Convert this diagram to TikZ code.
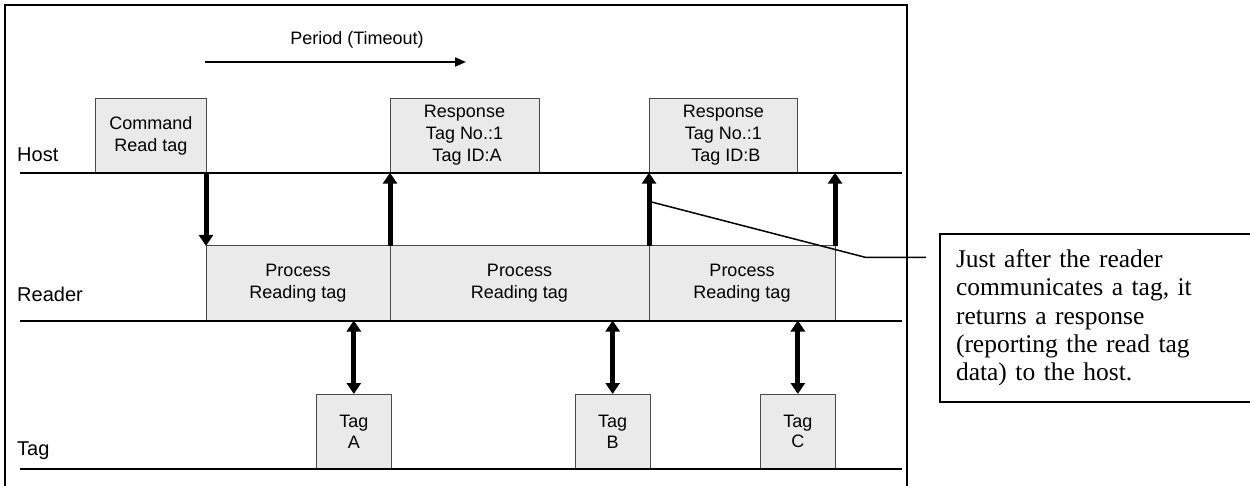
\documentclass[tikz,border=0pt]{standalone}
\usepackage{fontspec}
\setmainfont{Liberation Sans}
\newfontfamily\calloutfont{Liberation Serif}
\usetikzlibrary{arrows.meta}
\definecolor{boxfill}{HTML}{EAEAEA}
\definecolor{boxline}{HTML}{4A4A4A}
\tikzset{
  gbox/.style={draw=boxline, fill=boxfill, line width=1pt, inner sep=0pt, outer sep=0pt,
    align=center, font=\fontsize{18}{22}\selectfont},
  tline/.style={line width=2pt},
  lbl/.style={anchor=base west, inner sep=0pt, font=\fontsize{20}{24}\selectfont},
  bigarrow/.style={line width=5pt, -{Triangle[width=14pt,length=11pt]}},
  dblarrow/.style={line width=5pt, {Triangle[width=14pt,length=11pt]}-{Triangle[width=14pt,length=11pt]}},
}
\begin{document}
\begin{tikzpicture}[x=1pt,y=-1pt]
\useasboundingbox (0,0) rectangle (1250,486);
\fill[white] (0,0) rectangle (1250,486);
% outer frame
\draw[line width=1.5pt] (907,486) -- (907,5) -- (5,5) -- (5,486);

% period arrow
\node[font=\fontsize{18}{22}\selectfont, inner sep=0pt] (per) at (357,40) {Period (Timeout)};
\coordinate (pa) at (205,62);
\coordinate (pb) at (466,62);
\draw[line width=2pt, -{Triangle[width=9pt,length=11pt]}] (pa) -- (pb);

% host boxes
\node[gbox, minimum width=110.3pt, minimum height=74.2pt] (cmd) at (150.85,135.6) {Command\\Read tag};
\node[gbox, minimum width=149pt, minimum height=74.2pt] (resp1) at (464.5,135.6) {Response\\Tag No.:1\\\ Tag ID:A};
\node[gbox, minimum width=148.7pt, minimum height=74.2pt] (resp2) at (723.35,135.6) {Response\\Tag No.:1\\\ Tag ID:B};

% reader boxes
\node[gbox, minimum width=184pt, minimum height=74.5pt] (rd1) at (298,283.25) {Process\\Reading tag};
\node[gbox, minimum width=259pt, minimum height=74.5pt] (rd2) at (519.5,283.25) {Process\\Reading tag};
\node[gbox, minimum width=186pt, minimum height=74.5pt] (rd3) at (742,283.25) {Process\\Reading tag};

% tag boxes
\node[gbox, minimum width=74.3pt, minimum height=75pt, font=\fontsize{18}{20.7}\selectfont] (tA) at (353.85,431.5) {Tag\\A};
\node[gbox, minimum width=74.7pt, minimum height=75pt, font=\fontsize{18}{20.7}\selectfont] (tB) at (612.65,431.5) {Tag\\B};
\node[gbox, minimum width=74.3pt, minimum height=75pt, font=\fontsize{18}{20.7}\selectfont] (tC) at (797.85,431.5) {Tag\\C};

% timelines
\coordinate (h0) at (20,172.7);
\coordinate (h1) at (902,172.7);
\coordinate (r0) at (20,320.5);
\coordinate (r1) at (902,320.5);
\coordinate (g0) at (20,469);
\coordinate (g1) at (902,469);
\draw[tline] (h0) -- (h1);
\draw[tline] (r0) -- (r1);
\draw[tline] (g0) -- (g1);

% labels
\node[lbl] (host) at (17,162) {Host};
\node[lbl] (reader) at (17,301.7) {Reader};
\node[lbl] (tag) at (17,455) {Tag};

% host/reader arrows
\draw[bigarrow] (cmd.south east) -- (rd1.north west);
\draw[bigarrow] (rd2.north west) -- (resp1.south west);
\draw[bigarrow] (rd3.north west) -- (resp2.south west);
\coordinate (h835) at (rd3.north east |- h0);
\draw[bigarrow] (rd3.north east) -- (h835);

% reader/tag arrows
\draw[dblarrow] (tA.north |- rd1.south) -- (tA.north);
\draw[dblarrow] (tB.north |- rd2.south) -- (tB.north);
\draw[dblarrow] (tC.north |- rd3.south) -- (tC.north);

% callout (its right side runs off the page)
\node[anchor=north west, inner xsep=16pt, inner ysep=0pt, outer sep=0pt,
  minimum height=168pt, text width=280pt, align=left,
  font=\calloutfont\fontsize{25.5}{28.3}\selectfont] (call) at (940,234)
  {Just after the reader\\communicates a tag, it\\returns a response\\(reporting the read tag\\data) to the host.};
\coordinate (ctr) at (1250,234);
\coordinate (cbr) at (1250,402);
\draw[line width=1.5pt] (ctr) -- (call.north west) -- (call.south west) -- (cbr);
\coordinate (cs) at (651.5,202);
\coordinate (cb) at (866,257.5);
\coordinate (ce) at (926,257.5);
\draw[line width=1.5pt] (cs) -- (cb) -- (ce);
\end{tikzpicture}
\end{document}
